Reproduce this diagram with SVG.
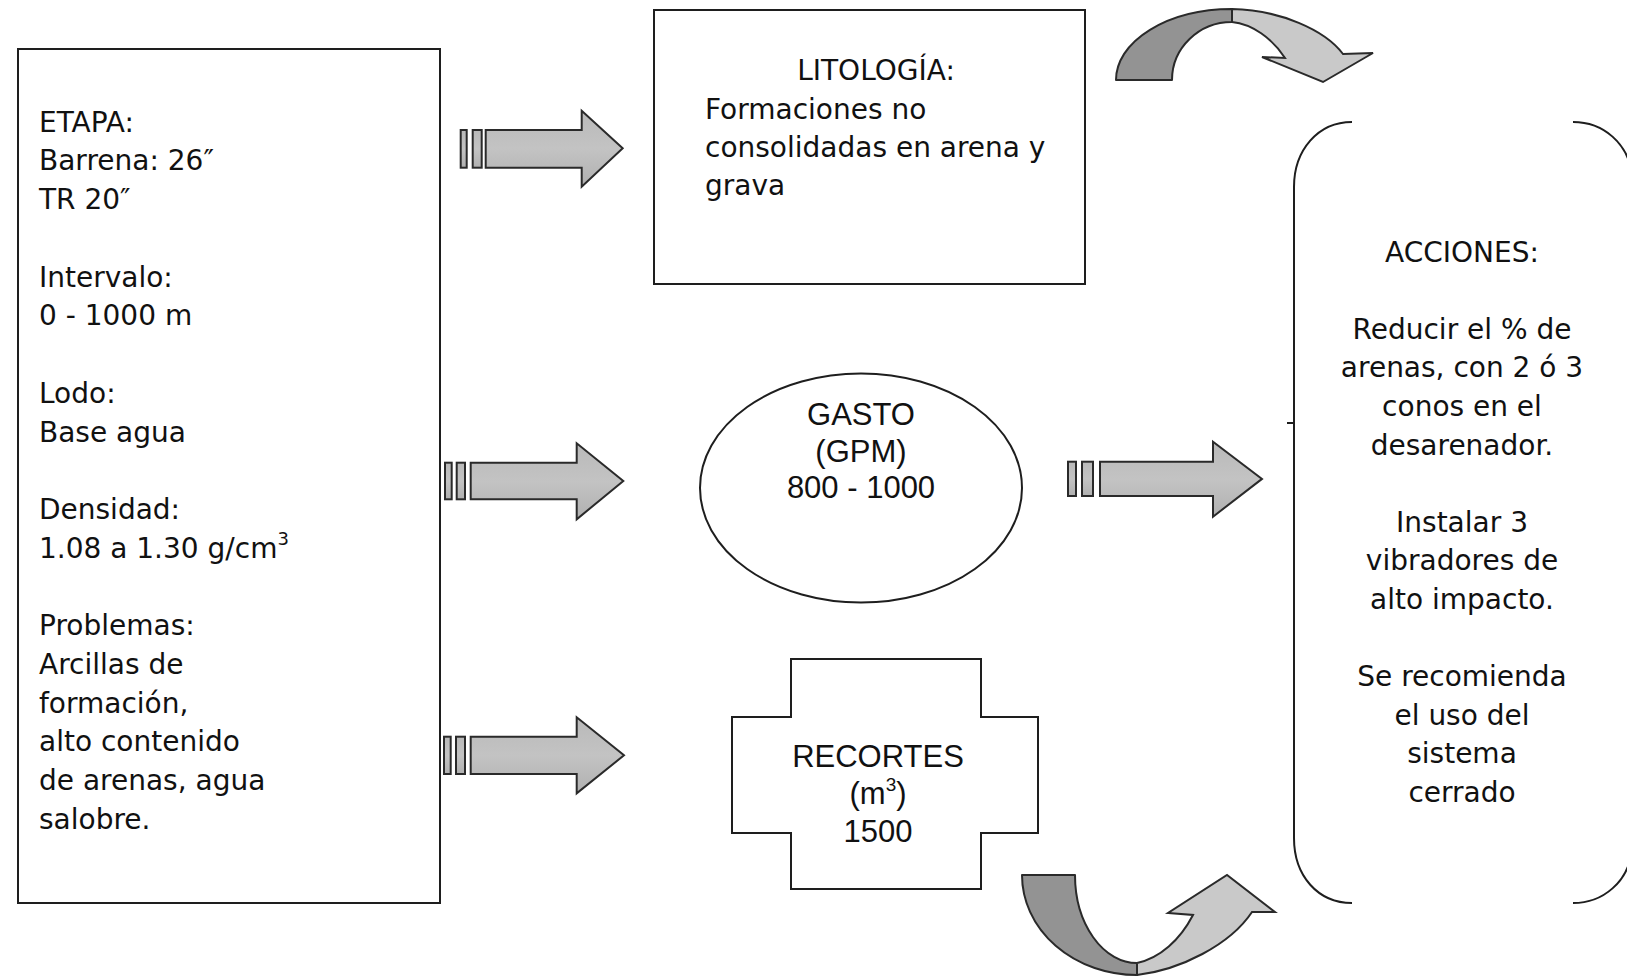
<svg xmlns="http://www.w3.org/2000/svg" width="1627" height="979" viewBox="0 0 1627 979">
  <style>
    .box { fill: #ffffff; stroke: #1e1e1e; stroke-width: 2; }
    .line { fill: none; stroke: #1e1e1e; stroke-width: 2; }
    .txt { font-family: "DejaVu Sans", Verdana, sans-serif; font-size: 28px; fill: #111; }
    .mid { text-anchor: middle; }
    .arial { font-family: "Liberation Sans", Arial, sans-serif; font-size: 31px; fill: #111; text-anchor: middle; }
    .blk { fill: url(#blockFill); stroke: #2a2a2a; stroke-width: 2; stroke-linejoin: miter; }
    .dark { fill: #939393; stroke: #2a2a2a; stroke-width: 2; stroke-linejoin: round; }
    .light { fill: #c9c9c9; stroke: #2a2a2a; stroke-width: 2; stroke-linejoin: miter; }
  </style>
  <defs>
    <linearGradient id="blockFill" x1="0" y1="0" x2="0" y2="1">
      <stop offset="0" stop-color="#b9b9b9"/>
      <stop offset="0.5" stop-color="#c3c3c3"/>
      <stop offset="1" stop-color="#b0b0b0"/>
    </linearGradient>
  </defs>

  <rect width="1627" height="979" fill="#ffffff"/>

  <!-- Well stage data -->
  <g id="node-etapa">
    <rect class="box" x="18" y="49" width="422" height="854"/>
    <text class="txt" x="39" y="131.6">ETAPA:</text>
    <text class="txt" x="39" y="170.3">Barrena: 26″</text>
    <text class="txt" x="39" y="209.1">TR 20″</text>
    <text class="txt" x="39" y="286.6">Intervalo:</text>
    <text class="txt" x="39" y="325.3">0 - 1000 m</text>
    <text class="txt" x="39" y="402.8">Lodo:</text>
    <text class="txt" x="39" y="441.5">Base agua</text>
    <text class="txt" x="39" y="519.0">Densidad:</text>
    <text class="txt" x="39" y="557.7">1.08 a 1.30 g/cm<tspan font-size="18" dy="-13">3</tspan></text>
    <text class="txt" x="39" y="635.2">Problemas:</text>
    <text class="txt" x="39" y="673.9">Arcillas de</text>
    <text class="txt" x="39" y="712.7">formación,</text>
    <text class="txt" x="39" y="751.4">alto contenido</text>
    <text class="txt" x="39" y="790.1">de arenas, agua</text>
    <text class="txt" x="39" y="828.9">salobre.</text>
  </g>

  <!-- Lithology -->
  <g id="node-litologia">
    <rect class="box" x="654" y="10" width="431" height="274"/>
    <text class="txt mid" x="876" y="80">LITOLOGÍA:</text>
    <text class="txt" x="705" y="119">Formaciones no</text>
    <text class="txt" x="705" y="157">consolidadas en arena y</text>
    <text class="txt" x="705" y="195">grava</text>
  </g>

  <!-- Flow rate -->
  <g id="node-gasto">
    <ellipse class="box" cx="861" cy="488" rx="161" ry="114.5"/>
    <text class="arial" x="861" y="425">GASTO</text>
    <text class="arial" x="861" y="462">(GPM)</text>
    <text class="arial" x="861" y="498">800 - 1000</text>
  </g>

  <!-- Cuttings -->
  <g id="node-recortes">
    <polygon class="box" points="791,659 981,659 981,717 1038,717 1038,833 981,833 981,889 791,889 791,833 732,833 732,717 791,717"/>
    <text class="arial" x="878" y="767">RECORTES</text>
    <text class="arial" x="878" y="804">(m<tspan font-size="19" dy="-13">3</tspan><tspan dy="13">)</tspan></text>
    <text class="arial" x="878" y="842">1500</text>
  </g>

  <!-- Actions -->
  <g id="node-acciones">
    <path class="line" d="M1352,122 C1318,122 1294,150 1294,187 L1294,838 C1294,876 1318,903 1352,903"/>
    <path class="line" d="M1573,122 C1605,122 1627,145 1631,170 M1631,855 C1627,880 1605,903 1573,903"/>
    <path class="line" d="M1287,423 L1294,423"/>
    <text class="txt mid" x="1462" y="261.5">ACCIONES:</text>
    <text class="txt mid" x="1462" y="338.7">Reducir el % de</text>
    <text class="txt mid" x="1462" y="377.3">arenas, con 2 ó 3</text>
    <text class="txt mid" x="1462" y="415.9">conos en el</text>
    <text class="txt mid" x="1462" y="454.5">desarenador.</text>
    <text class="txt mid" x="1462" y="531.7">Instalar 3</text>
    <text class="txt mid" x="1462" y="570.3">vibradores de</text>
    <text class="txt mid" x="1462" y="608.9">alto impacto.</text>
    <text class="txt mid" x="1462" y="686.1">Se recomienda</text>
    <text class="txt mid" x="1462" y="724.7">el uso del</text>
    <text class="txt mid" x="1462" y="763.3">sistema</text>
    <text class="txt mid" x="1462" y="801.9">cerrado</text>
  </g>

  <!-- Connectors: striped block arrows and curved arrows -->
  <g id="connectors">
    <!-- to lithology -->
    <g id="arrow-top">
      <rect class="blk" x="460.7" y="130" width="6" height="37.7"/>
      <rect class="blk" x="472.7" y="130" width="9" height="37.7"/>
      <path class="blk" d="M485.7,130 L581.7,130 L581.7,110.7 L622.7,148.3 L581.7,186.7 L581.7,167.7 L485.7,167.7 Z"/>
    </g>
    <!-- to flow rate -->
    <g id="arrow-mid">
      <rect class="blk" x="445" y="462.7" width="6.7" height="36.6"/>
      <rect class="blk" x="456.7" y="462.7" width="8.3" height="36.6"/>
      <path class="blk" d="M470.7,462.7 L576.7,462.7 L576.7,443.3 L623.3,481 L576.7,519.3 L576.7,499.3 L470.7,499.3 Z"/>
    </g>
    <!-- to cuttings -->
    <g id="arrow-low">
      <rect class="blk" x="444" y="736.7" width="6.7" height="37.3"/>
      <rect class="blk" x="456" y="736.7" width="9" height="37.3"/>
      <path class="blk" d="M470.7,736.7 L576.7,736.7 L576.7,717.3 L624,755.3 L576.7,793.3 L576.7,774 L470.7,774 Z"/>
    </g>
    <!-- flow rate to actions -->
    <g id="arrow-right">
      <rect class="blk" x="1068" y="461.7" width="8" height="34.3"/>
      <rect class="blk" x="1082" y="461.7" width="11" height="34.3"/>
      <path class="blk" d="M1100,461.7 L1213,461.7 L1213,441.7 L1262,478.9 L1213,516.7 L1213,496 L1100,496 Z"/>
    </g>
    <!-- curved arrow above -->
    <g id="curve-top">
      <path class="dark" d="M1116,80 A116,71 0 0 1 1232,9 L1232,22 A60,58 0 0 0 1172,80 Z"/>
      <path class="light" d="M1232,9 C1280,10 1325,30 1343,54 L1373,53 L1323,82 L1262,57 L1285,58 C1272,38 1252,24 1232,22 Z"/>
    </g>
    <!-- curved arrow below -->
    <g id="curve-bottom">
      <path class="dark" d="M1022,875 A115,100 0 0 0 1137,975 L1137,963 A62,88 0 0 1 1075,875 Z"/>
      <path class="light" d="M1137,975 C1180,970 1230,945 1252,912 L1275,912 L1227,875 L1168,913 L1193,915 C1180,940 1160,958 1137,963 Z"/>
    </g>
  </g>
</svg>
